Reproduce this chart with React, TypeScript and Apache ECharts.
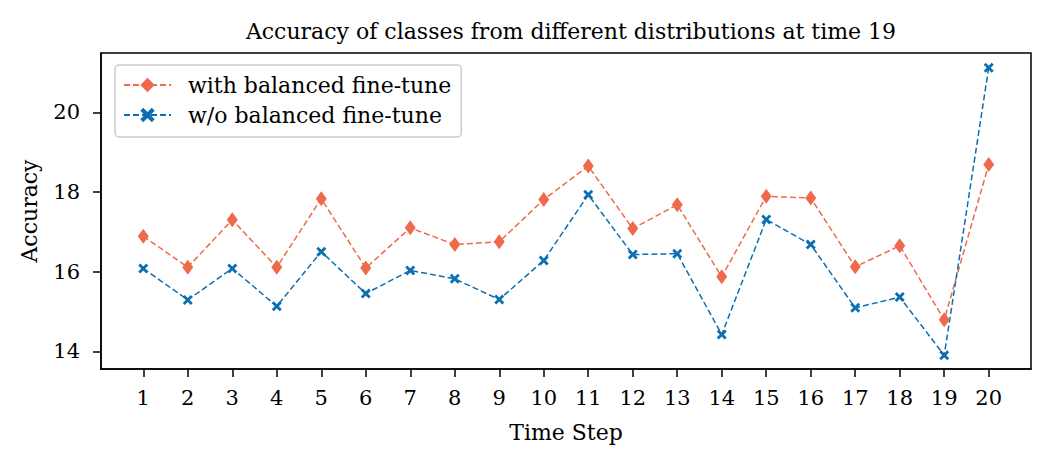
import React, { useEffect, useRef } from "react";
import * as echarts from "echarts";

const steps = [1, 2, 3, 4, 5, 6, 7, 8, 9, 10, 11, 12, 13, 14, 15, 16, 17, 18, 19, 20];
const withBalanced = [16.89, 16.11, 17.3, 16.11, 17.83, 16.09, 17.1, 16.68, 16.75, 17.81, 18.65, 17.08, 17.68, 15.87, 17.89, 17.85, 16.12, 16.65, 14.79, 18.69];
const withoutBalanced = [16.08, 15.29, 16.08, 15.13, 16.5, 15.45, 16.03, 15.82, 15.3, 16.28, 17.93, 16.43, 16.45, 14.42, 17.31, 16.68, 15.09, 15.36, 13.9, 21.12];
const yTicks = [14, 16, 18, 20];
const seriesNames = ["with balanced fine-tune", "w/o balanced fine-tune"];

const FONT = "DejaVu Serif";
const ORANGE = "#EE6A4B";
const BLUE = "#0B6FB1";
const X_PATH = "path://M0,2 L2,0 L5,3 L8,0 L10,2 L7,5 L10,8 L8,10 L5,7 L2,10 L0,8 L3,5 Z";

export default function App() {
  const ref = useRef<HTMLDivElement>(null);
  useEffect(() => {
    if (!ref.current) return;
    const chart = echarts.init(ref.current, null, { renderer: "svg" });
    const fs = 22;
    const tfs = 21;
    chart.setOption({
      animation: false,
      backgroundColor: "#ffffff",
      title: {
        text: "Accuracy of classes from different distributions at time 19",
        left: 566,
        textAlign: "center",
        top: 15,
        textStyle: { fontFamily: FONT, fontSize: fs, fontWeight: "normal", color: "#000" },
      },
      legend: {
        orient: "vertical",
        left: 115,
        top: 65,
        padding: [9, 10, 11, 8],
        itemWidth: 47,
        itemHeight: 18,
        itemGap: 8,
        backgroundColor: "rgba(255,255,255,0.8)",
        borderColor: "#cccccc",
        borderWidth: 1.5,
        borderRadius: 4,
        textStyle: { fontFamily: FONT, fontSize: fs, color: "#000", padding: [0, 0, 0, 12] },
        data: seriesNames,
      },
      grid: {
        left: 101,
        top: 53,
        width: 930,
        height: 316,
        show: true,
        borderColor: "#000",
        borderWidth: 1.5,
        backgroundColor: "transparent",
      },
      xAxis: {
        type: "value",
        min: 0.05,
        max: 20.95,
        name: "Time Step",
        nameLocation: "middle",
        nameGap: 52,
        nameTextStyle: { fontFamily: FONT, fontSize: fs, color: "#000" },
        axisLine: { show: true, lineStyle: { color: "#000", width: 1.5 } },
        axisTick: { show: true, length: 8, lineStyle: { color: "#000", width: 1.5 }, customValues: steps },
        axisLabel: { fontFamily: FONT, fontSize: tfs, color: "#000", margin: 18, customValues: steps },
        splitLine: { show: false },
      },
      yAxis: {
        type: "value",
        min: 13.555,
        max: 21.49,
        name: "Accuracy",
        nameLocation: "middle",
        nameGap: 61,
        nameTextStyle: { fontFamily: FONT, fontSize: fs, color: "#000" },
        axisLine: { show: true, lineStyle: { color: "#000", width: 1.5 } },
        axisTick: { show: true, length: 8, lineStyle: { color: "#000", width: 1.5 }, customValues: yTicks },
        axisLabel: { fontFamily: FONT, fontSize: tfs, color: "#000", margin: 21, customValues: yTicks },
        splitLine: { show: false },
      },
      series: [
        {
          name: seriesNames[0],
          type: "line",
          data: steps.map((s, i) => [s, withBalanced[i]]),
          symbol: "diamond",
          symbolSize: [11, 15],
          itemStyle: { color: ORANGE },
          lineStyle: { color: ORANGE, width: 1.5, type: [6, 3] },
        },
        {
          name: seriesNames[1],
          type: "line",
          data: steps.map((s, i) => [s, withoutBalanced[i]]),
          symbol: X_PATH,
          symbolSize: 10,
          itemStyle: { color: BLUE },
          lineStyle: { color: BLUE, width: 1.5, type: [6, 3] },
        },
      ],
    });
    return () => chart.dispose();
  }, []);
  return <div ref={ref} style={{ width: 1050, height: 465, position: "absolute", left: 0, top: 0 }} />;
}
